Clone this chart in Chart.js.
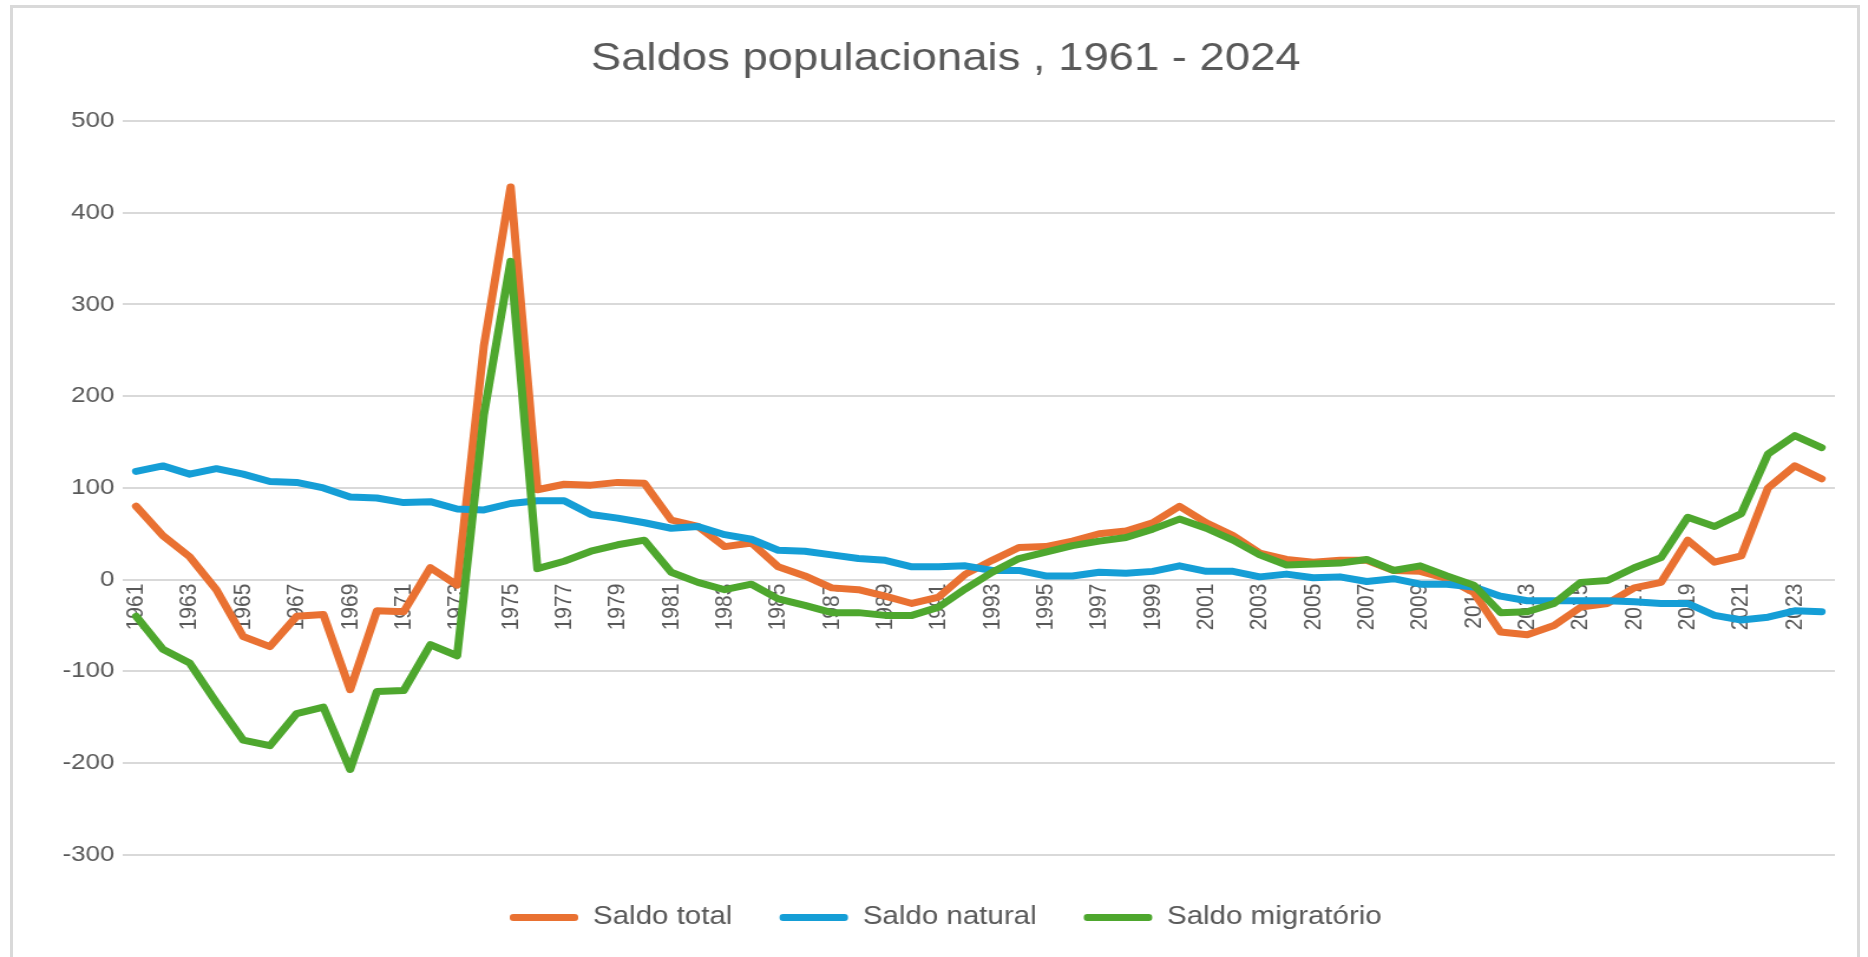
<!DOCTYPE html>
<html>
<head>
<meta charset="utf-8">
<title>Saldos populacionais</title>
<script src="https://cdn.jsdelivr.net/npm/chart.js"></script>
<style>
  html, body { margin: 0; padding: 0; background: #fff; overflow: hidden; }
  #frame {
    position: absolute; left: 10px; top: 5px; width: 1850px; height: 952px;
    box-sizing: border-box; border: 3px solid #d9d9d9; border-bottom: none;
  }
  /* a imagem original está esticada na horizontal (~1.18x) */
  #wrap {
    position: absolute; left: 0; top: 0; width: 1583px; height: 957px;
    transform: scaleX(1.18); transform-origin: 0 0;
  }
</style>
</head>
<body>
<div id="frame"></div>
<div id="wrap"><canvas id="saldosChart"></canvas></div>
<script>
// dados (milhares)
const anos = [];
for (let a = 1961; a <= 2024; a++) anos.push(String(a));

const saldoTotal = [
  80, 48, 25, -11, -62, -73, -40, -38, -120, -34,
  -35, 13, -6, 255, 428, 98, 104, 103, 106, 105,
  65, 58, 36, 40, 14, 4, -9, -11, -18, -26,
  -19, 6, 21, 35, 36, 42, 50, 53, 62, 80,
  62, 48, 29, 22, 19, 21, 21, 10, 9, 1,
  -14, -57, -60, -50, -30, -26, -9, -3, 43, 19,
  26, 100, 124, 110
];
const saldoNatural = [
  118, 124, 115, 121, 115, 107, 106, 100, 90, 89,
  84, 85, 77, 76, 83, 86, 86, 71, 67, 62,
  56, 58, 49, 44, 32, 31, 27, 23, 21, 14,
  14, 15, 10, 10, 4, 4, 8, 7, 9, 15,
  9, 9, 3, 6, 2, 3, -2, 1, -5, -5,
  -8, -18, -23, -23, -23, -23, -24, -26, -26, -39,
  -44, -41, -34, -35
];
const saldoMigratorio = [
  -40, -76, -91, -134, -175, -181, -146, -139, -207, -122,
  -121, -71, -83, 180, 347, 12, 20, 31, 38, 43,
  8, -3, -11, -5, -21, -28, -36, -36, -39, -39,
  -30, -10, 8, 23, 30, 37, 42, 46, 55, 66,
  56, 43, 27, 16, 17, 18, 22, 10, 15, 4,
  -6, -36, -35, -26, -3, -1, 13, 24, 68, 58,
  72, 137, 157, 144
];
const yTicks = [-300, -200, -100, 0, 100, 200, 300, 400, 500];

const cinza = '#595959';
const fonte = '"Liberation Sans", Arial, sans-serif';

function serie(label, data, cor, ordem) {
  return {
    label: label,
    data: data,
    borderColor: cor,
    backgroundColor: cor,
    borderWidth: 7,
    pointRadius: 0,
    tension: 0,
    borderJoinStyle: 'round',
    borderCapStyle: 'round',
    order: ordem
  };
}

const ctx = document.getElementById('saldosChart').getContext('2d');
new Chart(ctx, {
  type: 'line',
  data: {
    labels: anos,
    datasets: [
      serie('Saldo total', saldoTotal, '#E97132', 3),
      serie('Saldo natural', saldoNatural, '#159ED6', 2),
      serie('Saldo migratório', saldoMigratorio, '#4EA72E', 1)
    ]
  },
  options: {
    responsive: true,
    maintainAspectRatio: false,
    animation: false,
    layout: { padding: { left: 24, right: 4, top: 0, bottom: 17 } },
    plugins: {
      tooltip: { enabled: false },
      title: {
        display: true,
        text: 'Saldos populacionais , 1961 - 2024',
        color: cinza,
        font: { family: fonte, size: 38.5, weight: 'normal' },
        padding: { top: 36, bottom: 38.8 }
      },
      legend: {
        position: 'bottom',
        title: { display: true, text: '', font: { size: 1 }, padding: { top: 9, bottom: 0 } },
        labels: {
          color: cinza,
          font: { family: fonte, size: 25 },
          boxWidth: 58,
          boxHeight: 7,
          padding: 40,
          sort: (a, b) => a.datasetIndex - b.datasetIndex,
          generateLabels: function (chart) {
            const itens = Chart.defaults.plugins.legend.labels.generateLabels(chart);
            return itens.map(it => Object.assign(it, {
              lineWidth: 0,
              fillStyle: it.strokeStyle,
              borderRadius: 3
            }));
          },
          useBorderRadius: true
        }
      }
    },
    scales: {
      x: {
        type: 'category',
        position: { y: 0 },
        offset: true,
        grid: { display: false, drawTicks: false },
        border: { display: false },
        ticks: {
          color: cinza,
          font: { family: fonte, size: 21 },
          minRotation: 90,
          maxRotation: 90,
          autoSkip: false,
          padding: 4,
          callback: function (v, i) { return i % 2 === 0 ? anos[i] : ''; }
        }
      },
      y: {
        min: yTicks[0],
        max: yTicks[yTicks.length - 1],
        afterFit: function (scale) { scale.width = 80; },
        afterBuildTicks: function (scale) { scale.ticks = yTicks.map(v => ({ value: v })); },
        grid: { color: '#d9d9d9', lineWidth: 2, drawTicks: false },
        border: { display: false },
        ticks: {
          color: cinza,
          font: { family: fonte, size: 22 },
          padding: 7
        }
      },
      // margem à direita do gráfico (sem marcas)
      yDireita: {
        position: 'right',
        grid: { display: false, drawTicks: false },
        border: { display: false },
        ticks: { display: false },
        afterFit: function (scale) { scale.width = 24; }
      }
    }
  }
});
</script>
</body>
</html>
